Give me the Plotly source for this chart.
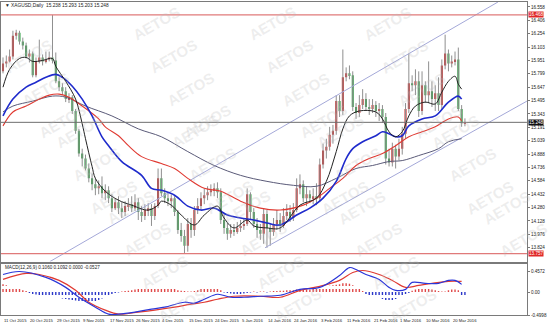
import plotly.graph_objects as go

# ---------------- data (XAGUSD daily) ----------------
opens = [15.827, 15.917, 15.940, 15.996, 16.232, 16.266, 16.165, 16.120, 15.996, 16.030,
         15.782, 15.940, 15.985, 15.940, 15.962, 15.985, 15.951, 15.714, 15.647, 15.602,
         15.512, 15.534, 15.377, 15.152, 14.893, 14.837, 14.724, 14.612, 14.544, 14.499,
         14.522, 14.443, 14.477, 14.387, 14.274, 14.342, 14.274, 14.229, 14.297, 14.319,
         14.274, 14.342, 14.229, 14.184, 14.252, 14.274, 14.184, 14.297, 14.612, 14.443,
         14.387, 14.353, 14.387, 14.229, 14.027, 13.959, 13.847, 14.094, 14.027, 14.252,
         14.297, 14.387, 14.421, 14.454, 14.477, 14.499, 14.454, 14.139, 14.049, 13.982,
         14.027, 14.004, 14.049, 14.072, 14.094, 14.432, 14.229, 14.094, 14.027, 13.982,
         14.207, 14.049, 14.004, 14.094, 14.139, 14.072, 14.184, 14.229, 14.162, 14.252,
         14.499, 14.544, 14.387, 14.432, 14.387, 14.409, 14.387, 14.769, 14.927, 14.972,
         15.107, 15.152, 15.489, 15.377, 15.759, 15.804, 15.782, 15.422, 15.354, 15.444,
         15.512, 15.422, 15.399, 15.444, 15.377, 15.399, 15.309, 14.837, 14.792, 14.949,
         14.859, 14.949, 15.118, 15.399, 15.692, 15.669, 15.714, 15.377, 15.669, 15.557,
         15.602, 15.512, 15.579, 15.444, 15.894, 16.030, 15.917, 15.940, 15.962, 15.399,
         15.238]
highs = [15.985, 16.007, 16.075, 16.288, 16.299, 16.288, 16.210, 16.153, 16.075, 16.052,
         15.985, 16.187, 16.019, 16.052, 16.052, 16.468, 16.041, 15.759, 15.692, 15.647,
         15.579, 15.557, 15.399, 15.174, 14.949, 14.882, 14.781, 14.668, 14.612, 14.589,
         14.634, 14.544, 14.522, 14.432, 14.387, 14.409, 14.342, 14.353, 14.387, 14.409,
         14.432, 14.387, 14.297, 14.319, 14.331, 14.319, 14.331, 14.724, 14.724, 14.499,
         14.443, 14.432, 14.409, 14.252, 14.106, 14.027, 14.162, 14.162, 14.297, 14.387,
         14.454, 14.499, 14.522, 14.544, 14.556, 14.567, 14.499, 14.207, 14.106, 14.094,
         14.094, 14.117, 14.139, 14.162, 14.499, 14.454, 14.274, 14.162, 14.094, 14.274,
         14.252, 14.106, 14.162, 14.252, 14.218, 14.274, 14.319, 14.308, 14.331, 14.612,
         14.657, 14.589, 14.522, 14.477, 14.499, 14.556, 14.837, 15.006, 15.062, 15.197,
         15.219, 15.557, 15.557, 16.075, 15.872, 15.894, 15.827, 15.467, 15.557, 15.625,
         15.579, 15.512, 15.512, 15.489, 15.467, 15.444, 15.354, 14.949, 15.017, 14.994,
         15.062, 15.197, 15.467, 16.030, 15.782, 15.850, 15.827, 15.827, 15.714, 15.940,
         15.714, 15.669, 15.759, 15.962, 16.243, 16.075, 16.007, 16.052, 16.097, 15.444,
         15.293]
lows = [15.804, 15.872, 15.928, 15.962, 16.187, 16.131, 16.075, 15.973, 15.928, 15.759,
        15.759, 15.917, 15.894, 15.917, 15.940, 15.917, 15.692, 15.602, 15.557, 15.478,
        15.467, 15.343, 15.118, 14.859, 14.747, 14.702, 14.567, 14.477, 14.421, 14.432,
        14.387, 14.364, 14.331, 14.229, 14.252, 14.207, 14.162, 14.184, 14.241, 14.229,
        14.241, 14.139, 14.117, 14.139, 14.184, 14.072, 14.139, 14.274, 14.409, 14.331,
        14.297, 14.274, 14.184, 13.982, 13.892, 13.757, 13.779, 13.937, 13.959, 14.207,
        14.252, 14.319, 14.364, 14.409, 14.409, 14.387, 14.094, 13.982, 13.914, 13.937,
        13.959, 13.982, 14.004, 14.027, 14.072, 14.139, 14.049, 13.937, 13.914, 13.869,
        13.824, 13.847, 13.959, 14.027, 14.004, 14.049, 14.139, 14.117, 14.128, 14.229,
        14.432, 14.342, 14.297, 14.331, 14.319, 14.308, 14.342, 14.724, 14.837, 14.927,
        15.006, 15.107, 15.309, 15.332, 15.714, 15.737, 15.377, 15.287, 15.309, 15.399,
        15.377, 15.332, 15.354, 15.309, 15.264, 15.242, 14.769, 14.747, 14.747, 14.724,
        14.814, 14.882, 15.062, 15.354, 15.602, 15.557, 15.309, 15.332, 15.467, 15.467,
        15.422, 15.377, 15.377, 15.399, 15.850, 15.827, 15.872, 15.894, 15.377, 15.197,
        15.203]
closes = [15.917, 15.940, 15.996, 16.232, 16.266, 16.165, 16.120, 15.996, 16.030, 15.782,
          15.940, 15.985, 15.940, 15.962, 15.985, 15.951, 15.714, 15.647, 15.602, 15.512,
          15.534, 15.377, 15.152, 14.893, 14.837, 14.724, 14.612, 14.544, 14.499, 14.522,
          14.443, 14.477, 14.387, 14.274, 14.342, 14.274, 14.229, 14.297, 14.319, 14.274,
          14.342, 14.229, 14.184, 14.252, 14.274, 14.184, 14.297, 14.612, 14.443, 14.387,
          14.353, 14.387, 14.229, 14.027, 13.959, 13.847, 14.094, 14.027, 14.252, 14.297,
          14.387, 14.421, 14.454, 14.477, 14.499, 14.454, 14.139, 14.049, 13.982, 14.027,
          14.004, 14.049, 14.072, 14.094, 14.432, 14.229, 14.094, 14.027, 13.982, 14.207,
          14.049, 14.004, 14.094, 14.139, 14.072, 14.184, 14.229, 14.162, 14.252, 14.499,
          14.544, 14.387, 14.432, 14.387, 14.409, 14.387, 14.769, 14.927, 14.972, 15.107,
          15.152, 15.489, 15.377, 15.759, 15.804, 15.782, 15.422, 15.354, 15.444, 15.512,
          15.422, 15.399, 15.444, 15.377, 15.399, 15.309, 14.837, 14.792, 14.949, 14.859,
          14.949, 15.118, 15.399, 15.692, 15.669, 15.714, 15.377, 15.669, 15.557, 15.602,
          15.512, 15.579, 15.444, 15.894, 16.030, 15.917, 15.940, 15.962, 15.399, 15.238,
          15.248]

# moving averages (bar index, value)
ma_black_x = [0, 2, 5, 7, 9, 12, 15, 16, 19, 22, 24, 25, 27, 28, 31, 35, 39, 44, 47, 48, 51, 54, 58, 61,
              65, 67, 70, 74, 76, 80, 84, 90, 95, 98, 101, 103, 105, 108, 113, 115, 117, 119, 121, 123,
              125, 128, 131, 133, 135, 137, 138, 139]
ma_black_y = [15.647, 15.850, 15.973, 15.985, 15.940, 15.951, 15.973, 15.883, 15.714, 15.512, 15.231,
              15.062, 14.747, 14.612, 14.466, 14.364, 14.308, 14.252, 14.308, 14.353, 14.308, 14.196,
              14.083, 14.196, 14.297, 14.162, 14.049, 14.139, 14.072, 14.049, 14.049, 14.308, 14.387,
              14.578, 14.916, 15.174, 15.321, 15.377, 15.366, 15.287, 15.141, 15.084, 15.141, 15.321,
              15.433, 15.478, 15.456, 15.591, 15.714, 15.771, 15.681, 15.625]
ma_blue_x = [0, 3, 7, 10, 13, 16, 18, 21, 24, 27, 30, 32, 36, 42, 45, 48, 52, 56, 60, 64, 68, 72, 76,
             80, 84, 89, 93, 97, 101, 104, 106, 109, 113, 115, 117, 119, 121, 123, 127, 131, 135, 138, 139]
ma_blue_y = [15.321, 15.512, 15.647, 15.703, 15.759, 15.793, 15.759, 15.658, 15.512, 15.321, 15.084,
             14.983, 14.803, 14.646, 14.499, 14.477, 14.421, 14.297, 14.252, 14.274, 14.196, 14.162,
             14.139, 14.106, 14.083, 14.196, 14.274, 14.387, 14.578, 14.837, 14.949, 15.028, 15.096,
             15.141, 15.118, 15.084, 15.096, 15.208, 15.287, 15.321, 15.478, 15.546, 15.512]
ma_red_x = [0, 3, 7, 11, 14, 17, 20, 24, 29, 31, 35, 38, 42, 48, 52, 56, 61, 66, 72, 78, 84, 91, 95,
            99, 103, 107, 111, 115, 119, 123, 127, 131, 135, 138, 139]
ma_red_y = [15.208, 15.366, 15.433, 15.512, 15.557, 15.568, 15.534, 15.433, 15.287, 15.197, 15.096,
            14.983, 14.859, 14.781, 14.724, 14.612, 14.499, 14.466, 14.353, 14.274, 14.252, 14.308,
            14.387, 14.499, 14.612, 14.758, 14.837, 14.893, 14.983, 15.084, 15.141, 15.197, 15.287,
            15.309, 15.264]
ma_gray_x = [0, 3, 9, 15, 19, 25, 33, 41, 48, 56, 64, 72, 80, 88, 95, 101, 107, 112, 117, 121, 126,
             132, 135, 139]
ma_gray_y = [15.366, 15.433, 15.489, 15.546, 15.534, 15.433, 15.321, 15.174, 15.084, 14.916, 14.758,
             14.646, 14.578, 14.533, 14.522, 14.612, 14.724, 14.758, 14.803, 14.814, 14.871, 14.949,
             15.028, 15.062]

# MACD(12,26,9)
macd_x = [0, 5, 13, 19, 23, 28, 32, 35, 40, 45, 49, 55, 58, 61, 65, 69, 73, 78, 84, 90, 96, 102, 105,
          107, 110, 114, 117, 119, 122, 124, 128, 132, 135, 137, 139]
macd_y = [0.383, 0.448, 0.319, 0.103, -0.112, -0.327, -0.478, -0.478, -0.435, -0.370, -0.327, -0.220,
          -0.241, -0.155, -0.047, -0.112, -0.112, -0.090, -0.069, 0.060, 0.103, 0.362, 0.534, 0.491,
          0.383, 0.276, 0.103, 0.039, 0.060, 0.211, 0.190, 0.190, 0.254, 0.254, 0.168]
signal_x = [0, 7, 11, 17, 22, 26, 31, 35, 41, 46, 52, 57, 61, 65, 70, 78, 84, 90, 96, 102, 106, 109,
            114, 118, 122, 126, 130, 135, 139]
signal_y = [0.276, 0.405, 0.383, 0.254, 0.039, -0.220, -0.392, -0.478, -0.435, -0.392, -0.327, -0.263,
            -0.220, -0.155, -0.090, -0.090, -0.112, 0.039, 0.125, 0.254, 0.426, 0.470, 0.383, 0.254,
            0.103, 0.146, 0.190, 0.233, 0.233]
hist = [0.172, 0.151, 0.129, 0.108, 0.086, 0.065, 0.043, 0.022, -0.022, -0.043,
        -0.054, -0.065, -0.075, -0.086, -0.097, -0.108, -0.118, -0.129, -0.140, -0.151,
        -0.161, -0.172, -0.183, -0.194, -0.204, -0.215, -0.215, -0.215, -0.204, -0.172,
        -0.140, -0.108, -0.075, -0.043, -0.022, -0.011, 0.011, 0.022, 0.032, 0.043,
        0.054, 0.065, 0.075, 0.086, 0.097, 0.108, 0.118, 0.129, 0.129, 0.118,
        0.108, 0.086, 0.065, 0.043, 0.032, 0.022, 0.011, 0.011, 0.022, 0.043,
        0.075, 0.108, 0.129, 0.129, 0.108, 0.075, 0.043, -0.011, -0.022, -0.032,
        -0.043, -0.043, -0.043, -0.032, -0.022, -0.011, 0.011, -0.011, 0.011, 0.011,
        -0.011, 0.011, 0.022, 0.022, 0.032, 0.032, 0.043, 0.043, 0.043, 0.054,
        0.054, 0.054, 0.054, 0.054, 0.065, 0.075, 0.086, 0.108, 0.129, 0.140,
        0.151, 0.161, 0.172, 0.194, 0.194, 0.183, 0.151, 0.108, 0.065, 0.022,
        -0.043, -0.065, -0.086, -0.108, -0.129, -0.151, -0.172, -0.172, -0.172, -0.151,
        -0.118, -0.086, -0.043, -0.022, 0.032, 0.054, 0.065, 0.075, 0.075, 0.065,
        0.054, 0.043, 0.022, 0.011, 0.011, 0.043, 0.054, 0.054, 0.043, -0.065,
        -0.108]

# horizontal levels and channel trend lines
levels = [16.468, 13.757]
ch_up_x = [14.2, 150.0]
ch_up_y = [13.667, 16.614]
ch_lo_x = [79.4, 158.8]
ch_lo_y = [13.824, 15.489]

price_ticks = [16.558, 16.406, 16.254, 16.103, 15.951, 15.799, 15.647, 15.495, 15.343, 15.191,
               15.039, 14.888, 14.736, 14.584, 14.432, 14.280, 14.128, 13.976, 13.824]
date_idx = [0, 8, 16, 24, 32, 40, 48, 56, 64, 72, 80, 88, 96, 104, 112, 120, 128, 136]
date_txt = ["11 Oct 2015", "20 Oct 2015", "29 Oct 2015", "9 Nov 2015", "17 Nov 2015", "26 Nov 2015",
            "4 Dec 2015", "15 Dec 2015", "24 Dec 2015", "5 Jan 2016", "14 Jan 2016", "24 Jan 2016",
            "3 Feb 2016", "11 Feb 2016", "21 Feb 2016", "1 Mar 2016", "10 Mar 2016", "20 Mar 2016"]

# ---------------- figure ----------------
n = len(closes)
idx = list(range(n))
UP, DN = "#cc2b2b", "#2f9e44"

fig = go.Figure()

# wicks
wx, wy = [], []
for i in idx:
    wx += [i, i, None]
    wy += [lows[i], highs[i], None]
fig.add_trace(go.Scatter(x=wx, y=wy, mode="lines", line=dict(color="#8f8f8f", width=1),
                         hoverinfo="skip", xaxis="x", yaxis="y"))
# bodies
base = [min(o, c) for o, c in zip(opens, closes)]
height = [max(abs(c - o), 0.009) for o, c in zip(opens, closes)]
cols = [UP if c >= o else DN for o, c in zip(opens, closes)]
fig.add_trace(go.Bar(x=idx, y=height, base=base, width=0.62, marker=dict(color=cols, line=dict(width=0)),
                     xaxis="x", yaxis="y"))

# channel lines
fig.add_trace(go.Scatter(x=ch_up_x, y=ch_up_y, mode="lines", line=dict(color="#a4a8d8", width=1),
                         xaxis="x", yaxis="y"))
fig.add_trace(go.Scatter(x=ch_lo_x, y=ch_lo_y, mode="lines", line=dict(color="#a4a8d8", width=1),
                         xaxis="x", yaxis="y"))

# moving averages
fig.add_trace(go.Scatter(x=ma_gray_x, y=ma_gray_y, mode="lines", line=dict(color="#5a5a78", width=1, shape="spline"),
                         xaxis="x", yaxis="y"))
fig.add_trace(go.Scatter(x=ma_red_x, y=ma_red_y, mode="lines", line=dict(color="#e03a32", width=1.1, shape="spline"),
                         xaxis="x", yaxis="y"))
fig.add_trace(go.Scatter(x=ma_blue_x, y=ma_blue_y, mode="lines", line=dict(color="#1f2bcc", width=1.6, shape="spline"),
                         xaxis="x", yaxis="y"))
fig.add_trace(go.Scatter(x=ma_black_x, y=ma_black_y, mode="lines", line=dict(color="#222222", width=1, shape="spline"),
                         xaxis="x", yaxis="y"))

# MACD histogram (dotted)
hpx, hpy, hnx, hny = [], [], [], []
for i, v in zip(idx, hist):
    if v >= 0:
        hpx += [i, i, None]; hpy += [0, v, None]
    else:
        hnx += [i, i, None]; hny += [0, v, None]
fig.add_trace(go.Scatter(x=hpx, y=hpy, mode="lines", line=dict(color="#e04848", width=1.4, dash="dot"),
                         xaxis="x2", yaxis="y2"))
fig.add_trace(go.Scatter(x=hnx, y=hny, mode="lines", line=dict(color="#2a36c8", width=1.4, dash="dot"),
                         xaxis="x2", yaxis="y2"))
fig.add_trace(go.Scatter(x=signal_x, y=signal_y, mode="lines", line=dict(color="#e03a32", width=1.2, shape="spline"),
                         xaxis="x2", yaxis="y2"))
fig.add_trace(go.Scatter(x=macd_x, y=macd_y, mode="lines", line=dict(color="#2a36d8", width=1.2, shape="spline"),
                         xaxis="x2", yaxis="y2"))

XR = [-0.606, 158.8]
XD = [0.0018, 0.941]
ax_common = dict(showgrid=False, zeroline=False, showline=True, mirror=True, linecolor="#7a7a7a", linewidth=1)
fig.update_layout(
    width=560, height=330, margin=dict(l=0, r=0, t=0, b=0),
    paper_bgcolor="white", plot_bgcolor="white", showlegend=False,
    barmode="overlay", hovermode=False,
    font=dict(family="Arial", size=5, color="#222"),
    xaxis=dict(domain=XD, range=XR, anchor="y", showticklabels=False, ticks="", **ax_common),
    yaxis=dict(domain=[0.2, 0.99394], range=[13.667, 16.6145], anchor="x", side="right",
               tickvals=price_ticks, ticktext=[f"{v:.3f}" for v in price_ticks],
               ticks="outside", ticklen=2, tickcolor="#7a7a7a", tickfont=dict(size=4.6), **ax_common),
    xaxis2=dict(domain=XD, range=XR, anchor="y2", showticklabels=False, ticks="", **ax_common),
    yaxis2=dict(domain=[0.03636, 0.19394], range=[-0.50, 0.62], anchor="x2", side="right",
                tickvals=[0.4572, 0.0, -0.4998], ticktext=["0.4572", "0.00", "-0.4998"],
                ticks="outside", ticklen=2, tickcolor="#7a7a7a", tickfont=dict(size=4.6), **ax_common),
)

# horizontal levels
for lv in levels:
    fig.add_shape(type="line", xref="paper", yref="y", x0=XD[0], x1=XD[1], y0=lv, y1=lv,
                  line=dict(color="#e07a7a", width=1.2))
    fig.add_annotation(xref="paper", yref="y", x=XD[1] + 0.002, y=lv, text=f"{lv:.3f}", showarrow=False,
                       xanchor="left", bgcolor="#e02828", font=dict(color="white", size=4.6), borderpad=0)
fig.add_shape(type="line", xref="paper", yref="y", x0=XD[0], x1=XD[1], y0=closes[-1], y1=closes[-1],
              line=dict(color="#6e6e6e", width=1))
fig.add_annotation(xref="paper", yref="y", x=XD[1] + 0.002, y=closes[-1], text=f"{closes[-1]:.3f}",
                   showarrow=False, xanchor="left", bgcolor="#111111", font=dict(color="white", size=4.6), borderpad=0)

# titles
fig.add_annotation(xref="paper", yref="paper", x=0.006, y=1 - 5.5 / 330, xanchor="left", yanchor="middle",
                   text=f"▼ XAGUSD,Daily  {opens[-1]:.3f} {highs[-1]:.3f} {lows[-1]:.3f} {closes[-1]:.3f}",
                   showarrow=False, font=dict(size=4.8, color="#222"))
fig.add_annotation(xref="paper", yref="paper", x=0.006, y=1 - 270 / 330, xanchor="left", yanchor="middle",
                   text="MACD(12,26,9) 0.1060 0.1092 0.0000 -0.0527", showarrow=False,
                   font=dict(size=4.6, color="#222"))

# date labels
for di, dt in zip(date_idx, date_txt):
    fig.add_annotation(xref="x2", yref="paper", x=di, y=1 - 323.5 / 330, text=dt, showarrow=False,
                       xanchor="left", yanchor="middle", xshift=-1, font=dict(size=4.2, color="#222"))

# watermark
for bx in (50, 195, 340, 485):
    for k in range(-5, 7):
        px, py = bx + 17 * k, 133 + 33 * k
        if -10 <= px <= 560 and -5 <= py <= 335:
            fig.add_annotation(xref="paper", yref="paper", x=px / 560, y=1 - py / 330, text="<b>AETOS</b>",
                               showarrow=False, textangle=-30,
                               font=dict(size=15, color="rgba(185,185,185,0.25)", family="Arial"))

fig.write_html("out.html")
